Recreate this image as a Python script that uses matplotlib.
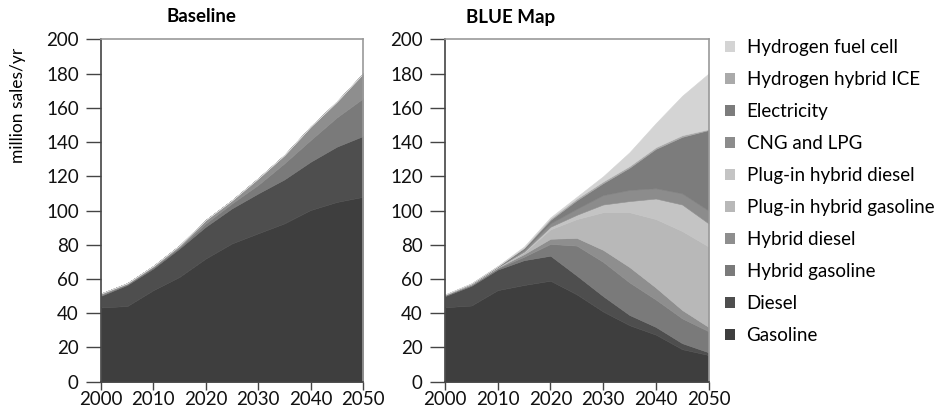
import matplotlib
matplotlib.use("Agg")
import matplotlib.pyplot as plt
from matplotlib.patches import Patch

plt.rcParams['font.family'] = ['Lato', 'DejaVu Sans']

# === Data (million sales/yr) ===

years = [2000, 2005, 2010, 2015, 2020, 2025, 2030, 2035, 2040, 2045, 2050]

labels = ["Gasoline", "Diesel", "Hybrid gasoline", "Hybrid diesel",
          "Plug-in hybrid gasoline", "Plug-in hybrid diesel", "CNG and LPG",
          "Electricity", "Hydrogen hybrid ICE", "Hydrogen fuel cell"]
colors = ["#3e3e3e", "#4e4e4e", "#7a7a7a", "#8e8e8e", "#b8b8b8",
          "#c4c4c4", "#8c8c8c", "#7c7c7c", "#aaaaaa", "#d4d4d4"]

# Baseline scenario
base_gasoline = [43.4, 44.2, 53.5, 61.3, 72.0, 80.8, 86.7, 92.5, 100.3, 105.0, 108.0]
base_diesel = [6.8, 12.3, 12.7, 16.6, 18.6, 20.5, 23.3, 25.7, 28.2, 32.3, 35.5]
base_hyb_gas = [0.3, 0.5, 0.8, 0.8, 1.9, 2.9, 5.0, 9.4, 12.7, 17.1, 22.0]
base_hyb_diesel = [1.0, 0.5, 0.6, 0.9, 2.0, 1.8, 3.8, 4.8, 7.8, 9.2, 14.5]
zeros = [0] * len(years)

# BLUE Map scenario
blue_gasoline = [43.5, 44.5, 53.5, 56.5, 59.0, 51.0, 41.0, 33.0, 27.5, 19.0, 15.6]
blue_diesel = [6.5, 11.5, 12.0, 14.5, 14.6, 11.0, 9.0, 6.0, 4.5, 3.5, 1.6]
blue_hyb_gas = [0.5, 0.5, 0.8, 2.0, 6.9, 17.5, 20.0, 19.0, 16.0, 14.5, 12.3]
blue_hyb_diesel = [0.2, 0.3, 0.3, 1.5, 3.0, 4.5, 7.0, 9.0, 7.0, 4.9, 2.5]
blue_phev_gas = [0.1, 0.2, 0.2, 1.0, 5.5, 11.0, 22.0, 32.0, 40.0, 46.1, 47.0]
blue_phev_diesel = [0.0, 0.1, 0.2, 0.5, 1.5, 2.5, 4.5, 6.5, 12.0, 15.5, 13.5]
blue_cng = [0.0, 0.1, 0.2, 1.0, 2.0, 3.5, 5.5, 6.5, 6.0, 6.5, 7.5]
blue_elec = [0.0, 0.1, 0.2, 1.0, 2.0, 5.0, 7.0, 13.0, 23.0, 33.0, 47.0]
blue_h2_ice = [0.0, 0.0, 0.0, 0.3, 0.8, 1.0, 1.0, 1.0, 1.0, 1.0, 0.5]
blue_h2_fc = [0.2, 0.2, 0.2, 0.7, 0.7, 1.0, 3.0, 8.0, 14.0, 23.0, 32.5]

baseline = [base_gasoline, base_diesel, base_hyb_gas, base_hyb_diesel,
            zeros, zeros, zeros, zeros, zeros, zeros]
blue_map = [blue_gasoline, blue_diesel, blue_hyb_gas, blue_hyb_diesel,
            blue_phev_gas, blue_phev_diesel, blue_cng, blue_elec,
            blue_h2_ice, blue_h2_fc]


def style_axes(ax):
    ax.set_xlim(2000, 2050)
    ax.set_ylim(0, 200)
    ax.set_xticks(range(2000, 2051, 10))
    ax.set_yticks(range(0, 201, 20))
    ax.tick_params(axis='y', length=11, width=1, color='#444444',
                   labelsize=13.5, pad=5, labelcolor='#111111')
    ax.tick_params(axis='x', length=6, width=1, color='#444444',
                   labelsize=13.5, pad=1, labelcolor='#111111')
    for side in ['left', 'bottom']:
        ax.spines[side].set_color('#444444')
        ax.spines[side].set_linewidth(1.2)
    for side in ['top', 'right']:
        ax.spines[side].set_color('#999999')
        ax.spines[side].set_linewidth(1.2)


def draw_panel(ax, layers):
    ax.stackplot(years, *layers, colors=colors, linewidth=0.4,
                 edgecolor='face', antialiased=True)
    style_axes(ax)


fig = plt.figure(figsize=(9.44, 4.12), dpi=100)
ax1 = fig.add_axes([101 / 944, 1 - 381.7 / 412, 262 / 944, 342.4 / 412])
ax2 = fig.add_axes([445 / 944, 1 - 381.7 / 412, 263.5 / 944, 342.4 / 412])

draw_panel(ax1, baseline)
draw_panel(ax2, blue_map)

fig.text(201 / 944, 1 - 17 / 412, "Baseline", fontsize=13.5,
         fontweight='bold', ha='center', va='center')
fig.text(511 / 944, 1 - 17 / 412, "BLUE Map", fontsize=13.5,
         fontweight='bold', ha='center', va='center')
fig.text(18 / 944, 1 - 105 / 412, "million sales/yr", fontsize=12.5,
         rotation=90, ha='center', va='center')

handles = [Patch(facecolor=c, edgecolor='none', label=l)
           for l, c in zip(labels, colors)][::-1]
fig.legend(handles=handles, loc='upper left',
           bbox_to_anchor=(725 / 944, 1 - 39 / 412), frameon=False,
           fontsize=13.5, labelspacing=0.8, handlelength=0.55,
           handleheight=0.55, handletextpad=0.6, borderaxespad=0,
           borderpad=0)

fig.savefig("out.png", dpi=100)
